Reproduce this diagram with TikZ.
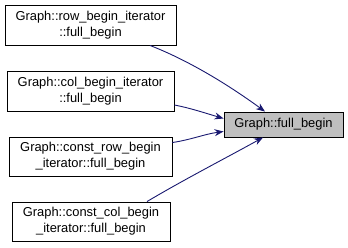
\documentclass[tikz,border=0pt]{standalone}
\usepackage{fontspec}
\setmainfont{Liberation Sans}
\usetikzlibrary{arrows.meta}
\begin{document}
\begin{tikzpicture}[x=1pt,y=-1pt,
  fn/.style={draw=black, line width=0.9pt, fill=white, inner sep=0pt, font=\fontsize{12.9}{16}\selectfont, align=center},
  cur/.style={fn, fill=black!25},
  call/.style={color={rgb,255:red,25;green,25;blue,112}, line width=0.9pt, -{Stealth[length=9pt,width=7pt]}}]
\useasboundingbox (0,0) rectangle (348,248);
\node[fn, minimum width=171pt, minimum height=40pt] (a) at (90.5,25) {Graph::row\_begin\_iterator\\::full\_begin};
\node[fn, minimum width=167pt, minimum height=40pt] (b) at (90.5,91) {Graph::col\_begin\_iterator\\::full\_begin};
\node[fn, minimum width=163pt, minimum height=39pt] (c) at (90.5,156.5) {Graph::const\_row\_begin\\\_iterator::full\_begin};
\node[fn, minimum width=158pt, minimum height=39pt] (d) at (91,221.5) {Graph::const\_col\_begin\\\_iterator::full\_begin};
\node[cur, minimum width=119pt, minimum height=25pt] (t) at (283.5,124.5) {Graph::full\_begin};
% callers of Graph::full_begin
\draw[call] (a.south -| 150,0) .. controls (190,61) and (230,86) .. (t.north -| 265,0);
\draw[call] (b.east |- 0,105) .. controls (190,108) and (205,113) .. (t.west |- 0,118.5);
\draw[call] (c.east |- 0,142.5) .. controls (190,140) and (205,134) .. (t.west |- 0,131.5);
\draw[call] (d.north -| 147,0) .. controls (185,179) and (226,158) .. (t.south -| 263,0);
\end{tikzpicture}
\end{document}
